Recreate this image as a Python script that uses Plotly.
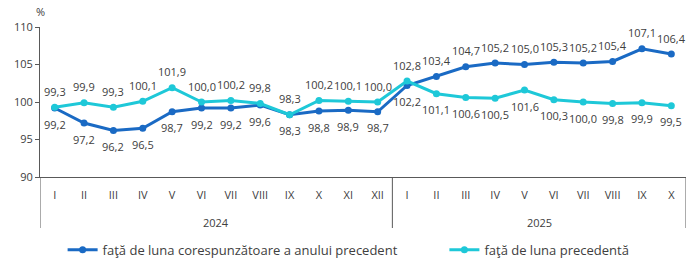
import plotly.graph_objects as go

months = ["I","II","III","IV","V","VI","VII","VIII","IX","X","XI","XII",
          "I","II","III","IV","V","VI","VII","VIII","IX","X"]
years = ["2024", "2025"]
year_counts = [12, 10]
yoy = [99.2, 97.2, 96.2, 96.5, 98.7, 99.2, 99.2, 99.6, 98.3, 98.8, 98.9, 98.7,
       102.2, 103.4, 104.7, 105.2, 105.0, 105.3, 105.2, 105.4, 107.1, 106.4]
mom = [99.3, 99.9, 99.3, 100.1, 101.9, 100.0, 100.2, 99.8, 98.3, 100.2, 100.1, 100.0,
       102.8, 101.1, 100.6, 100.5, 101.6, 100.3, 100.0, 99.8, 99.9, 99.5]
name_yoy = "faţă de luna corespunzătoare a anului precedent"
name_mom = "faţă de luna precedentă"

DARK = "#1a6ac4"
LIGHT = "#1ec8d8"
TXT = "#404040"
AX = "#595959"
FONT = "Open Sans"

x = list(range(len(months)))
fig = go.Figure()
fig.add_trace(go.Scatter(x=x, y=yoy, name=name_yoy, mode="lines+markers", legend="legend",
                         line=dict(color=DARK, width=3), marker=dict(size=7, color=DARK)))
fig.add_trace(go.Scatter(x=x, y=mom, name=name_mom, mode="lines+markers", legend="legend2",
                         line=dict(color=LIGHT, width=3), marker=dict(size=7, color=LIGHT)))

def fmt(v):
    return f"{v:.1f}".replace(".", ",")

for i in x:
    light_above = mom[i] >= yoy[i]
    for v, above in ((mom[i], light_above), (yoy[i], not light_above)):
        fig.add_annotation(x=i, y=v, text=fmt(v), showarrow=False,
                           yshift=16 if above else -16,
                           font=dict(family=FONT, size=11, color=TXT))

# year labels and dividers
start = 0
for yr, n in zip(years, year_counts):
    fig.add_annotation(x=start + (n - 1) / 2, y=-0.3, xref="x", yref="paper",
                       text=yr, showarrow=False, yanchor="middle",
                       font=dict(family=FONT, size=11, color=TXT))
    fig.add_shape(type="line", xref="x", yref="paper", x0=start - 0.5, x1=start - 0.5,
                  y0=0, y1=-0.34, line=dict(color=AX, width=1))
    start += n
fig.add_shape(type="line", xref="x", yref="paper", x0=start - 0.5, x1=start - 0.5,
              y0=0, y1=-0.34, line=dict(color=AX, width=1))

fig.add_annotation(x=-0.5, y=1.04, xref="x", yref="paper", text="%", showarrow=False,
                   xanchor="center", yanchor="bottom",
                   font=dict(family=FONT, size=11, color=TXT))

legend_common = dict(orientation="h", xanchor="left", y=-0.385, yanchor="top",
                     itemwidth=30, bgcolor="rgba(0,0,0,0)",
                     font=dict(family=FONT, size=13, color=TXT))

fig.update_layout(
    width=691, height=264,
    margin=dict(l=40, r=5, t=27, b=87, autoexpand=False),
    paper_bgcolor="white", plot_bgcolor="white",
    font=dict(family=FONT, size=11, color=TXT),
    showlegend=True,
    legend=dict(x=0.035, **legend_common),
    legend2=dict(x=0.626, **legend_common),
    xaxis=dict(range=[-0.5, len(months) - 0.5], tickmode="array", tickvals=x,
               ticktext=months, showgrid=False, zeroline=False, showline=True,
               linecolor=AX, linewidth=1, ticks="", ticklabelstandoff=8,
               tickfont=dict(family=FONT, size=11, color=TXT)),
    yaxis=dict(range=[90, 110], tickvals=[90, 95, 100, 105, 110], showgrid=False,
               zeroline=False, showline=True, linecolor=AX, linewidth=1,
               ticks="outside", ticklen=4, tickcolor=AX,
               tickfont=dict(family=FONT, size=11, color=TXT)),
)

fig.write_html("out.html")
